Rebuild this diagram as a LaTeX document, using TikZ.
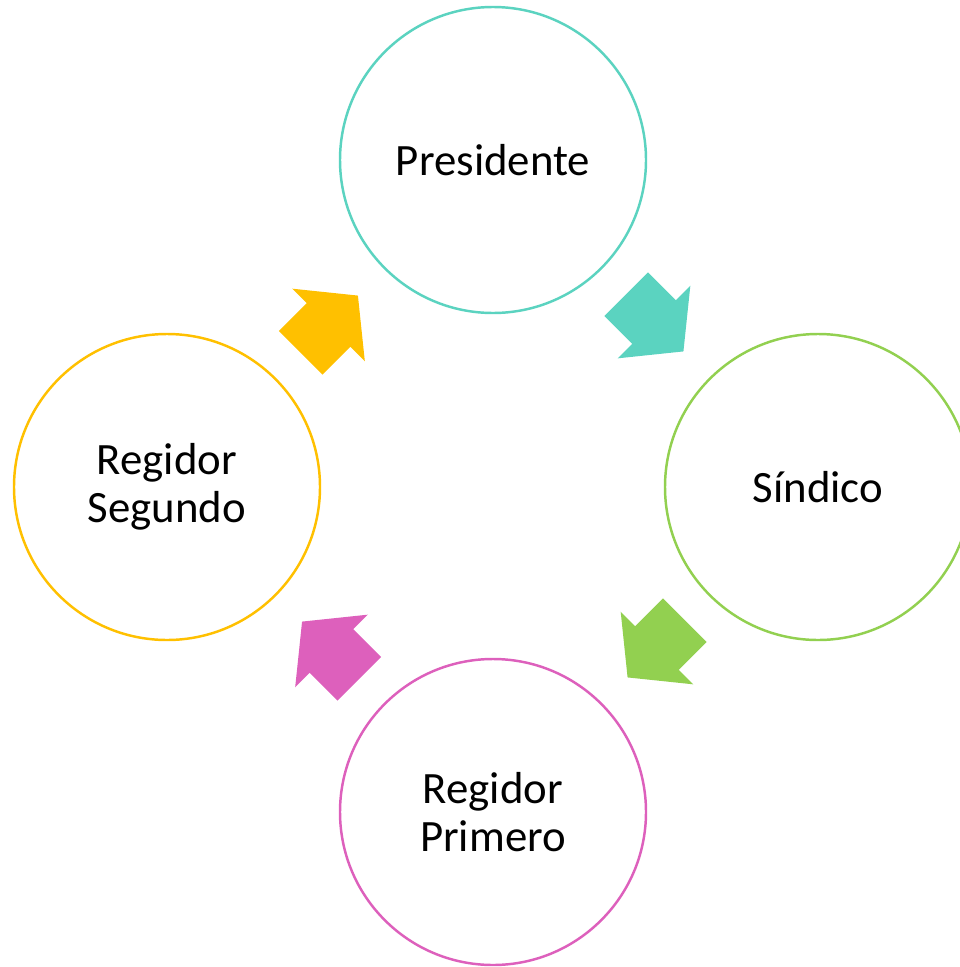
\documentclass[tikz,border=0pt]{standalone}
\usepackage{fontspec}
\setmainfont{Carlito}
\usetikzlibrary{
    positioning,
    shapes.arrows,
    calc,
}
\definecolor{presc}{HTML}{5BD3C0}
\definecolor{sindc}{HTML}{92D050}
\definecolor{primc}{HTML}{DD60BC}
\definecolor{segc}{HTML}{FFC000}
\tikzstyle{member} = [circle, draw, line width=1.4pt, fill=white,
    minimum size=6.12cm, inner sep=0pt, align=center,
    font=\fontsize{25.5}{27.3}\selectfont]
\tikzstyle{turn} = [single arrow, draw=none, minimum height=1.62cm,
    single arrow head extend=0.41cm, single arrow tip angle=102,
    inner xsep=0pt, inner ysep=0.61cm]

\begin{document}
\begin{tikzpicture}[on grid]
    \useasboundingbox (0,0) rectangle (19.2,-19.34);
    % Place nodes
    \node [member, draw=presc] (pres) at (9.86,-3.2) {Presidente};
    \node [member, draw=sindc, below right=6.54cm and 6.5cm of pres] (sind) {Síndico};
    \node [member, draw=segc, below left=6.54cm and 6.52cm of pres] (regs) {Regidor\\Segundo};
    \node [member, draw=primc, below=13.04cm of pres] (regp) {Regidor\\Primero};
    % Draw arrows
    \node [turn, fill=presc, rotate=-45, xshift=-0.27cm] (a1) at ($(pres)!0.5!(sind)$) {};
    \node [turn, fill=sindc, rotate=-135, xshift=-0.27cm] (a2) at ($(sind)!0.5!(regp)$) {};
    \node [turn, fill=primc, rotate=135, xshift=-0.27cm] (a3) at ($(regp)!0.5!(regs)$) {};
    \node [turn, fill=segc, rotate=45, xshift=-0.27cm] (a4) at ($(regs)!0.5!(pres)$) {};
\end{tikzpicture}
\end{document}
